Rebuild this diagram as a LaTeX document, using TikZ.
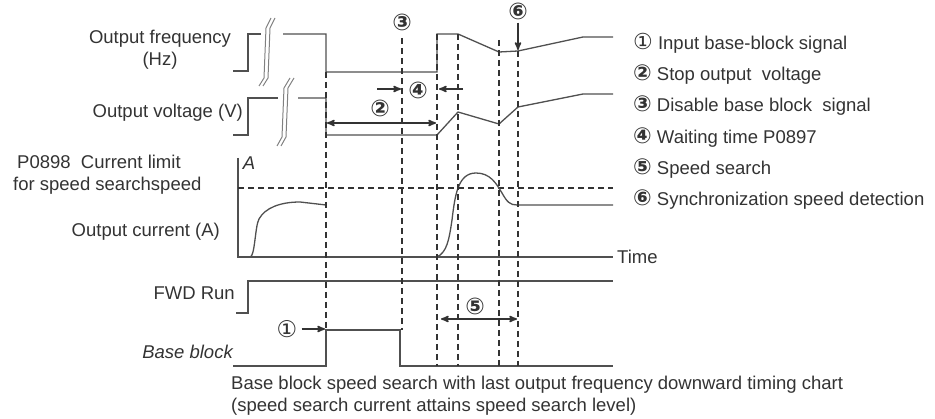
\documentclass[tikz,border=0pt]{standalone}
\usepackage{fontspec}
\setmainfont{Liberation Sans}
\newfontfamily\numfont{DejaVu Sans}
\usepackage{xcolor}
\usepackage{tikz}
\usetikzlibrary{arrows}

\definecolor{ink}{HTML}{333333}
\definecolor{trace}{HTML}{505050}
\newcommand\circnum[1]{{\numfont\fontsize{22}{22}\selectfont #1}}

\begin{document}
\begin{tikzpicture}[x=1pt, y=-1pt, >=stealth', inner sep=0pt,
  every node/.style={font=\fontsize{18.5}{22}\selectfont, text=ink},
  wave/.style={draw=trace, line width=1.3pt},
  guide/.style={draw=ink, line width=2pt, dash pattern=on 6pt off 4pt},
  brk/.style={draw=gray, line width=1pt},
  numlbl/.style={font=\numfont\fontsize{23}{22}\selectfont\bfseries},
  span/.style={<->, draw=ink, line width=1.6pt},
  pointer/.style={->, draw=ink, line width=1.6pt}]
\useasboundingbox (0,0) rectangle (935,419);

% signal names
\node[align=center] (freq) at (160,50) {Output frequency\\(Hz)};
\node[anchor=east] (volt) at (243,113) {Output voltage (V)};
\node[align=left, anchor=west] (limit) at (13,175) {\hspace{4pt}P0898\ \ Current limit\\for speed searchspeed};
\node[anchor=east] (curr) at (220,232) {Output current (A)};
\node[anchor=east] (fwd) at (235,293) {FWD Run};
\node[anchor=east, font=\fontsize{18.5}{22}\selectfont\itshape] (bb) at (233,352) {Base block};
\node[font=\fontsize{18.5}{22}\selectfont\itshape] (amp) at (249,163) {A};
\node[anchor=west] (time) at (617,257) {Time};

% legend
\node[anchor=west] (k1) at (633,43) {\circnum{①} Input base-block signal};
\node[anchor=west] (k2) at (633,75) {\circnum{\bfseries ②} Stop output~ voltage};
\node[anchor=west] (k3) at (633,106) {\circnum{\bfseries ③} Disable base block~ signal};
\node[anchor=west] (k4) at (633,138) {\circnum{\bfseries ④} Waiting time P0897};
\node[anchor=west] (k5) at (633,169) {\circnum{\bfseries ⑤} Speed search};
\node[anchor=west] (k6) at (633,200) {\circnum{\bfseries ⑥} Synchronization speed detection};

\node[align=left, anchor=west] (cap) at (231,396) {Base block speed search with last output frequency downward timing chart\\(speed search current attains speed search level)};

% output frequency
\draw[wave] (233,71) -- (248,71) -- (248,34) -- (261,34);
\draw[wave] (283,34) -- (326,34) -- (326,72) -- (437,72) -- (437,34) -- (458,34)
  -- (499,52) -- (518,51) -- (583,37) -- (613,37);
\draw[brk] (259,86) -- (264,78) -- (266,28) -- (271,18);
\draw[brk] (263,86) -- (268,78) -- (270,28) -- (275,18);

% output voltage
\draw[wave] (233,135) -- (248,135) -- (248,98) -- (278,98);
\draw[wave] (298,98) -- (326,98) -- (326,135) -- (437,135) -- (458,112)
  -- (499,124) -- (518,107) -- (583,94) -- (613,94);
\draw[brk] (277,146) -- (282,137) -- (284,88) -- (290,78);
\draw[brk] (281,146) -- (286,137) -- (288,88) -- (294,78);

% output current
\draw[wave] (238,158) -- (238,257) -- (613,257);
\draw[guide] (238,188) -- (613,188);
\draw[wave] (250,257) .. controls (255,257) and (255,226) .. (259,219)
  .. controls (265,208) and (280,202) .. (300,202) -- (326,205);
\draw[wave] (437,257) .. controls (447,252) and (449,240) .. (452,220)
  .. controls (455,195) and (458,173) .. (476,173)
  .. controls (490,173) and (496,183) .. (502,193)
  .. controls (507,202) and (510,205) .. (517,205) -- (613,205);

% FWD run and base block
\draw[wave] (236,313) -- (248,313) -- (248,281) -- (613,281);
\draw[wave] (233,366) -- (326,366) -- (326,330) -- (400,330) -- (400,366) -- (613,366);

% event lines
\draw[guide] (326,72) -- (326,330);
\draw[guide] (402,38) -- (402,330);
\draw[guide] (437,34) -- (437,366);
\draw[guide] (458,34) -- (458,366);
\draw[guide] (499,40) -- (499,366);
\draw[guide] (518,51) -- (518,366);

% markers
\node[numlbl, font=\numfont\fontsize{23}{22}\selectfont] (n1) at (287,329) {①};
\node[numlbl] (n2) at (380,108) {②};
\node[numlbl] (n3) at (402,22) {③};
\node[numlbl] (n4) at (418,90) {④};
\node[numlbl] (n5) at (475,306) {⑤};
\node[numlbl] (n6) at (518,11) {⑥};

\coordinate (t1) at (325,329);
\coordinate (t6) at (518,50);
\coordinate (s2a) at (327,123);
\coordinate (s2b) at (436,123);
\coordinate (w4a) at (377,89);
\coordinate (w4b) at (401,89);
\coordinate (w4c) at (463,89);
\coordinate (w4d) at (439,89);
\coordinate (s5a) at (441,319);
\coordinate (s5b) at (517,319);

\draw[pointer] (n1.east) ++(4,0) -- (t1);
\draw[pointer] (n6.south) ++(0,3) -- (t6);
\draw[pointer] (w4a) -- (w4b);
\draw[pointer] (w4c) -- (w4d);
\draw[span] (s2a) -- (s2b);
\draw[span] (s5a) -- (s5b);
\end{tikzpicture}
\end{document}
